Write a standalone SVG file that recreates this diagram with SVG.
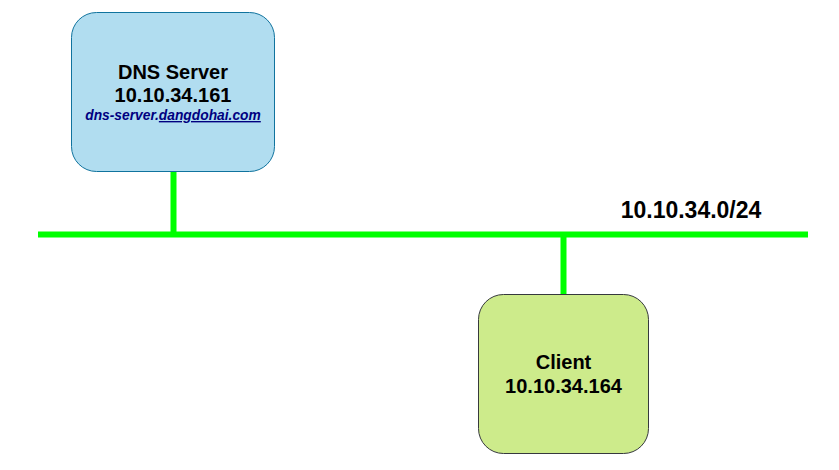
<svg xmlns="http://www.w3.org/2000/svg" width="839" height="470" viewBox="0 0 839 470">
<style>
.t{font-family:"Liberation Sans",Arial,sans-serif;font-weight:bold;fill:#000;text-anchor:middle}
.wire{stroke:#00ff00;stroke-width:6;fill:none}
</style>
<rect width="839" height="470" fill="#fff"/>
<g id="connectors">
<line class="wire" x1="38" y1="234.5" x2="808" y2="234.5"/>
<line class="wire" x1="173.5" y1="172" x2="173.5" y2="234.5"/>
<line class="wire" x1="563.5" y1="234.5" x2="563.5" y2="294"/>
</g>
<g id="dns-server">
<rect x="71.5" y="12.5" width="203" height="159" rx="25" ry="25" fill="#b1ddf0" stroke="#10739e" stroke-width="1"/>
<text class="t" x="173" y="79" font-size="20">DNS Server</text>
<text class="t" x="173" y="102" font-size="20">10.10.34.161</text>
<text class="t" x="173" y="120" font-size="13.8" font-style="italic" fill="#000080" style="fill:#000080">dns-server.<tspan text-decoration="underline">dangdohai.com</tspan></text>
</g>
<g id="client">
<rect x="478.5" y="294.5" width="170" height="159" rx="25" ry="25" fill="#cdeb8b" stroke="#36393d" stroke-width="1"/>
<text class="t" x="563.5" y="369" font-size="20">Client</text>
<text class="t" x="563.5" y="393" font-size="20">10.10.34.164</text>
</g>
<g id="subnet">
<text class="t" x="691" y="218" font-size="23">10.10.34.0/24</text>
</g>
</svg>
